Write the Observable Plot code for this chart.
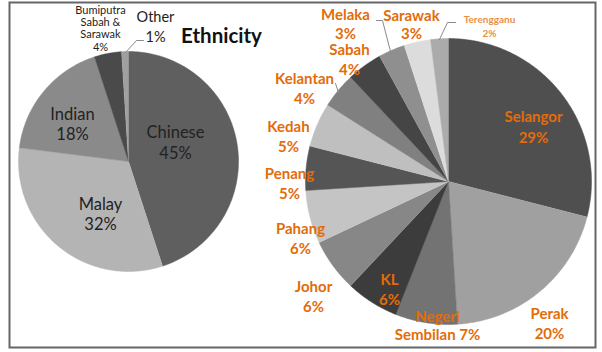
<!DOCTYPE html>
<html><head><meta charset="utf-8">
<script src="https://cdn.jsdelivr.net/npm/d3@7"></script>
<script src="https://cdn.jsdelivr.net/npm/@observablehq/plot@0.6"></script>
<style>body{margin:0;background:#fff;} #chart svg{display:block;}</style>
</head><body><div id="chart"></div>
<script>
// ---- data ----
const ethnicGroups = ["Chinese", "Malay", "Indian", "Bumiputra Sabah & Sarawak", "Other"];
const ethnicLabels = ["Chinese", "Malay", "Indian", "Bumiputra\nSabah &\nSarawak", "Other"];
const ethnicShares = [45, 32, 18, 4, 1];
const ethnicColors = ["#5f5f5f", "#b4b4b4", "#8a8a8a", "#4a4a4a", "#a0a0a0"];

const states = ["Selangor", "Perak", "Negeri Sembilan", "KL", "Johor", "Pahang", "Penang", "Kedah", "Kelantan", "Sabah", "Melaka", "Sarawak", "Terengganu"];
const stateLabels = ["Selangor", "Perak", "Negeri\nSembilan", "KL", "Johor", "Pahang", "Penang", "Kedah", "Kelantan", "Sabah", "Melaka", "Sarawak", "Terengganu"];
const stateShares = [29, 20, 7, 6, 6, 6, 5, 5, 4, 4, 3, 3, 2];
const stateColors = ["#4f4f4f", "#a0a0a0", "#737373", "#3c3c3c", "#878787", "#c4c4c4", "#555555", "#bfbfbf", "#808080", "#454545", "#8f8f8f", "#dcdcdc", "#ababab"];

const chartTitle = "Ethnicity";

// ---- layout ----
const W = 602, H = 352;
const leftPie = {cx: 128, cy: 161, r: 110};
const rightPie = {cx: 448, cy: 181, r: 143};

function slicePolys(names, values, colors, pie) {
  const arcs = d3.pie().sort(null).value(d => d)(values);
  const pts = [];
  arcs.forEach((a, i) => {
    const n = Math.max(2, Math.ceil((a.endAngle - a.startAngle) / 0.01));
    pts.push({slice: names[i], color: colors[i], x: pie.cx, y: pie.cy});
    for (let k = 0; k <= n; k++) {
      const t = a.startAngle + (a.endAngle - a.startAngle) * k / n;
      pts.push({slice: names[i], color: colors[i], x: pie.cx + pie.r * Math.sin(t), y: pie.cy - pie.r * Math.cos(t)});
    }
  });
  return pts;
}

const leftPts = slicePolys(ethnicGroups, ethnicShares, ethnicColors, leftPie);
const rightPts = slicePolys(states, stateShares, stateColors, rightPie);

// label placements (block centers)
const ethnicPos = {
  "Chinese": {x: 175, y: 141, size: 16.5, lh: 1.33},
  "Malay": {x: 100, y: 213, size: 16.5, lh: 1.21},
  "Indian": {x: 72, y: 123, size: 16.5, lh: 1.21},
  "Bumiputra Sabah & Sarawak": {x: 100, y: 28, size: 11, lh: 1.1},
  "Other": {x: 155, y: 25, size: 14.5, lh: 1.38}
};
const statePos = {
  "Selangor": {x: 533, y: 125, size: 15, lh: 1.45},
  "Perak": {x: 549, y: 322, size: 15, lh: 1.33},
  "Negeri Sembilan": {x: 437, y: 325, size: 15, lh: 1.2, sep: " "},
  "KL": {x: 389, y: 288, size: 15, lh: 1.33},
  "Johor": {x: 313, y: 295, size: 15, lh: 1.33},
  "Pahang": {x: 300, y: 237, size: 15, lh: 1.33},
  "Penang": {x: 289, y: 182, size: 15, lh: 1.33},
  "Kedah": {x: 288, y: 135, size: 15, lh: 1.33},
  "Kelantan": {x: 304, y: 87, size: 15, lh: 1.33},
  "Sabah": {x: 349, y: 58, size: 15, lh: 1.33},
  "Melaka": {x: 345, y: 22.5, size: 15, lh: 1.27},
  "Sarawak": {x: 411, y: 24, size: 15, lh: 1.15},
  "Terengganu": {x: 489, y: 25, size: 10, lh: 1.35}
};

const ethnicText = ethnicGroups.map((g, i) => ({
  text: `${ethnicLabels[i]}\n${ethnicShares[i]}%`, ...ethnicPos[g]
}));
const stateText = states.map((s, i) => {
  const p = statePos[s];
  const lbl = stateLabels[i];
  const text = p.sep ? `${lbl}${p.sep}${stateShares[i]}%` : `${lbl}\n${stateShares[i]}%`;
  return {text, state: s, ...p};
});

const leaders = [
  {id: "Other", pts: [[125, 52], [136, 40], [143, 40]]},
  {id: "Melaka", pts: [[390, 51], [382, 20], [376, 20]]},
  {id: "Kelantan", pts: [[338, 92], [335, 83]]},
  {id: "Terengganu", pts: [[439, 39], [447, 22], [455, 22]]}
].flatMap(l => l.pts.map(([x, y]) => ({id: l.id, x, y})));

const orange = "#e36c0a";

function textMarks(data, opts) {
  const groups = d3.groups(data, d => `${d.size}|${d.lh}`);
  return groups.map(([key, rows]) => {
    const [size, lh] = key.split("|").map(Number);
    return Plot.text(rows, {x: "x", y: "y", text: "text", fontSize: size, lineHeight: lh, ...opts(rows[0])});
  });
}

const chart = Plot.plot({
  width: W, height: H,
  marginLeft: 9, marginTop: 2, marginRight: 7, marginBottom: 5,
  x: {domain: [0, W], range: [0, W], axis: null},
  y: {domain: [0, H], range: [0, H], axis: null},
  color: {type: "identity"},
  style: {fontFamily: "Lato, 'Open Sans', sans-serif", background: "#fff"},
  marks: [
    Plot.line(leftPts, {x: "x", y: "y", z: "slice", fill: "color", stroke: "color", strokeWidth: 0.5, curve: "linear"}),
    Plot.line(rightPts, {x: "x", y: "y", z: "slice", fill: "color", stroke: "color", strokeWidth: 0.5, curve: "linear"}),
    Plot.line(leaders, {x: "x", y: "y", z: "id", stroke: "#8a8a8a", strokeWidth: 1}),
    ...textMarks(ethnicText, d => ({fill: "#222", fontWeight: "normal"})),
    ...textMarks(stateText, d => ({fill: d.size < 12 ? "#e8904a" : orange, fontWeight: "bold"})),
    Plot.text([chartTitle], {x: () => 221, y: () => 36, text: d => d, fontSize: 20.5, fontWeight: "bold", fill: "#111"}),
    Plot.frame({stroke: "#666", strokeWidth: 2})
  ]
});
document.getElementById("chart").append(chart);
</script>
</body></html>
